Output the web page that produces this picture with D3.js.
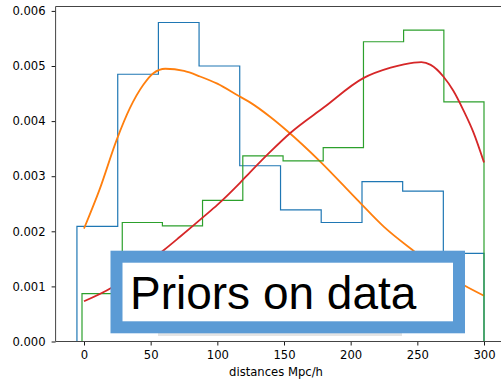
<!DOCTYPE html>
<html>
<head>
<meta charset="utf-8">
<script src="https://cdn.jsdelivr.net/npm/d3@7"></script>
<style>
  html, body { margin: 0; padding: 0; background: #fff; }
  svg { display: block; }
</style>
</head>
<body>
<svg id="chart" width="501" height="384"></svg>
<script>
// ---- data ----
const blueEdges  = [-5.3, 25.3, 55.8, 86.3, 116.8, 147.4, 177.9, 208.5, 239.0, 269.5, 300];
const blueValues = [0.00209, 0.00485, 0.00579, 0.00500, 0.00319, 0.00239, 0.00216, 0.00290, 0.00273, 0.00160];

const greenEdges  = [-1.5, 28.7, 58.8, 88.9, 119.1, 149.3, 179.4, 209.6, 239.7, 269.9, 300];
const greenValues = [0.00087, 0.00216, 0.00210, 0.00256, 0.00337, 0.00328, 0.00352, 0.00544, 0.00565, 0.00435];

const orangeX = [0, 12, 24.5, 34.5, 44.5, 52, 61, 75, 87, 100, 116.5, 124.5, 140, 152, 177, 205, 225, 248, 265, 285, 300];
const orangeY = [0.00205, 0.00278, 0.00366, 0.00424, 0.00466, 0.00487, 0.00495, 0.00491, 0.00481, 0.00468, 0.00445,
                 0.00434, 0.00407, 0.00383, 0.00327, 0.00257, 0.00208, 0.00163, 0.00132, 0.00102, 0.00083];

const redX = [0, 21, 40, 60, 72, 90, 100, 117, 124.5, 140, 154.5, 180, 209.5, 230, 240, 253, 260, 269.5, 277, 284.5, 292, 300];
const redY = [0.00073, 0.00098, 0.00130, 0.00166, 0.00190, 0.00227, 0.00248, 0.00288, 0.00307, 0.00345, 0.00378,
              0.00425, 0.00478, 0.00497, 0.00503, 0.00507, 0.00502, 0.00481, 0.00455, 0.00420, 0.00380, 0.00325];

const xTicks = [0, 50, 100, 150, 200, 250, 300];
const yTicks = [0, 0.001, 0.002, 0.003, 0.004, 0.005, 0.006];
const xLabel = "distances Mpc/h";
const boxText = "Priors on data";

// ---- layout ----
const svg = d3.select("#chart");
const xLim = [-21.3, 315.3];
const yLim = [0, 0.00608];
const x = d3.scaleLinear().domain([0, 300]).range([84, 484]);
const xLeft = x(xLim[0]), xRight = x(xLim[1]);
const y = d3.scaleLinear().domain(yLim).range([341.5, 6.5]);

const colors = { blue: "#1f77b4", orange: "#ff7f0e", green: "#2ca02c", red: "#d62728" };
const tickFont = "'DejaVu Sans', sans-serif";

svg.append("clipPath").attr("id", "plotclip")
  .append("rect").attr("x", xLeft).attr("y", y(yLim[1])).attr("width", xRight - xLeft).attr("height", y(0) - y(yLim[1]));

const plot = svg.append("g").attr("clip-path", "url(#plotclip)");

function stepPath(edges, values) {
  const pts = [[edges[0], 0]];
  values.forEach((v, i) => { pts.push([edges[i], v]); pts.push([edges[i + 1], v]); });
  pts.push([edges[edges.length - 1], 0]);
  return d3.line().x(d => x(d[0])).y(d => y(d[1]))(pts);
}

const curve = d3.line().x(d => x(d[0])).y(d => y(d[1])).curve(d3.curveMonotoneX);

plot.append("path").attr("d", stepPath(blueEdges, blueValues))
  .attr("fill", "none").attr("stroke", colors.blue).attr("stroke-width", 1.2);
plot.append("path").attr("d", curve(orangeX.map((v, i) => [v, orangeY[i]])))
  .attr("fill", "none").attr("stroke", colors.orange).attr("stroke-width", 1.8);
plot.append("path").attr("d", stepPath(greenEdges, greenValues))
  .attr("fill", "none").attr("stroke", colors.green).attr("stroke-width", 1.2);
plot.append("path").attr("d", curve(redX.map((v, i) => [v, redY[i]])))
  .attr("fill", "none").attr("stroke", colors.red).attr("stroke-width", 1.8);

// ---- axes ----
const xAxis = d3.axisBottom(x).tickValues(xTicks).tickSize(4).tickPadding(5).tickFormat(d3.format("d"));
const gx = svg.append("g").attr("transform", `translate(0,${y(0)})`).call(xAxis);
gx.select(".domain").remove();
gx.selectAll("text").attr("font-family", tickFont).attr("font-size", "11.6px").attr("fill", "#000");
gx.selectAll("line").attr("stroke", "#000").attr("stroke-width", 0.9);

const yAxis = d3.axisLeft(y).tickValues(yTicks).tickSize(4).tickPadding(6).tickFormat(d3.format(".3f"));
const gy = svg.append("g").attr("transform", `translate(${xLeft},0)`).call(yAxis);
gy.select(".domain").remove();
gy.selectAll("text").attr("font-family", tickFont).attr("font-size", "11.6px").attr("fill", "#000");
gy.selectAll("line").attr("stroke", "#000").attr("stroke-width", 0.9);

// spines (right spine lies outside the 501px view)
const spine = svg.append("g").attr("stroke", "#444").attr("stroke-width", 1).attr("fill", "none");
spine.append("line").attr("x1", xLeft).attr("x2", xLeft).attr("y1", y(yLim[1])).attr("y2", y(0));
spine.append("line").attr("x1", xLeft).attr("x2", xRight).attr("y1", y(0)).attr("y2", y(0));
spine.append("line").attr("x1", xLeft).attr("x2", xRight).attr("y1", y(yLim[1])).attr("y2", y(yLim[1]));

svg.append("text").attr("x", 276).attr("y", 375.5).attr("text-anchor", "middle")
  .attr("font-family", tickFont).attr("font-size", "11.6px").attr("fill", "#000").text(xLabel);

// ---- text box ----
svg.append("rect").attr("x", 158).attr("y", 333).attr("width", 244).attr("height", 3).attr("fill", "#e4e4e4");
svg.append("rect").attr("x", 116.5).attr("y", 256.7).attr("width", 342.5).attr("height", 70.6)
  .attr("fill", "#fff").attr("stroke", "#5b9bd5").attr("stroke-width", 12);
svg.append("text").attr("x", 130).attr("y", 308.5)
  .attr("font-family", "'Liberation Sans', Arial, sans-serif").attr("font-size", "46px").attr("fill", "#000")
  .text(boxText);
</script>
</body>
</html>
